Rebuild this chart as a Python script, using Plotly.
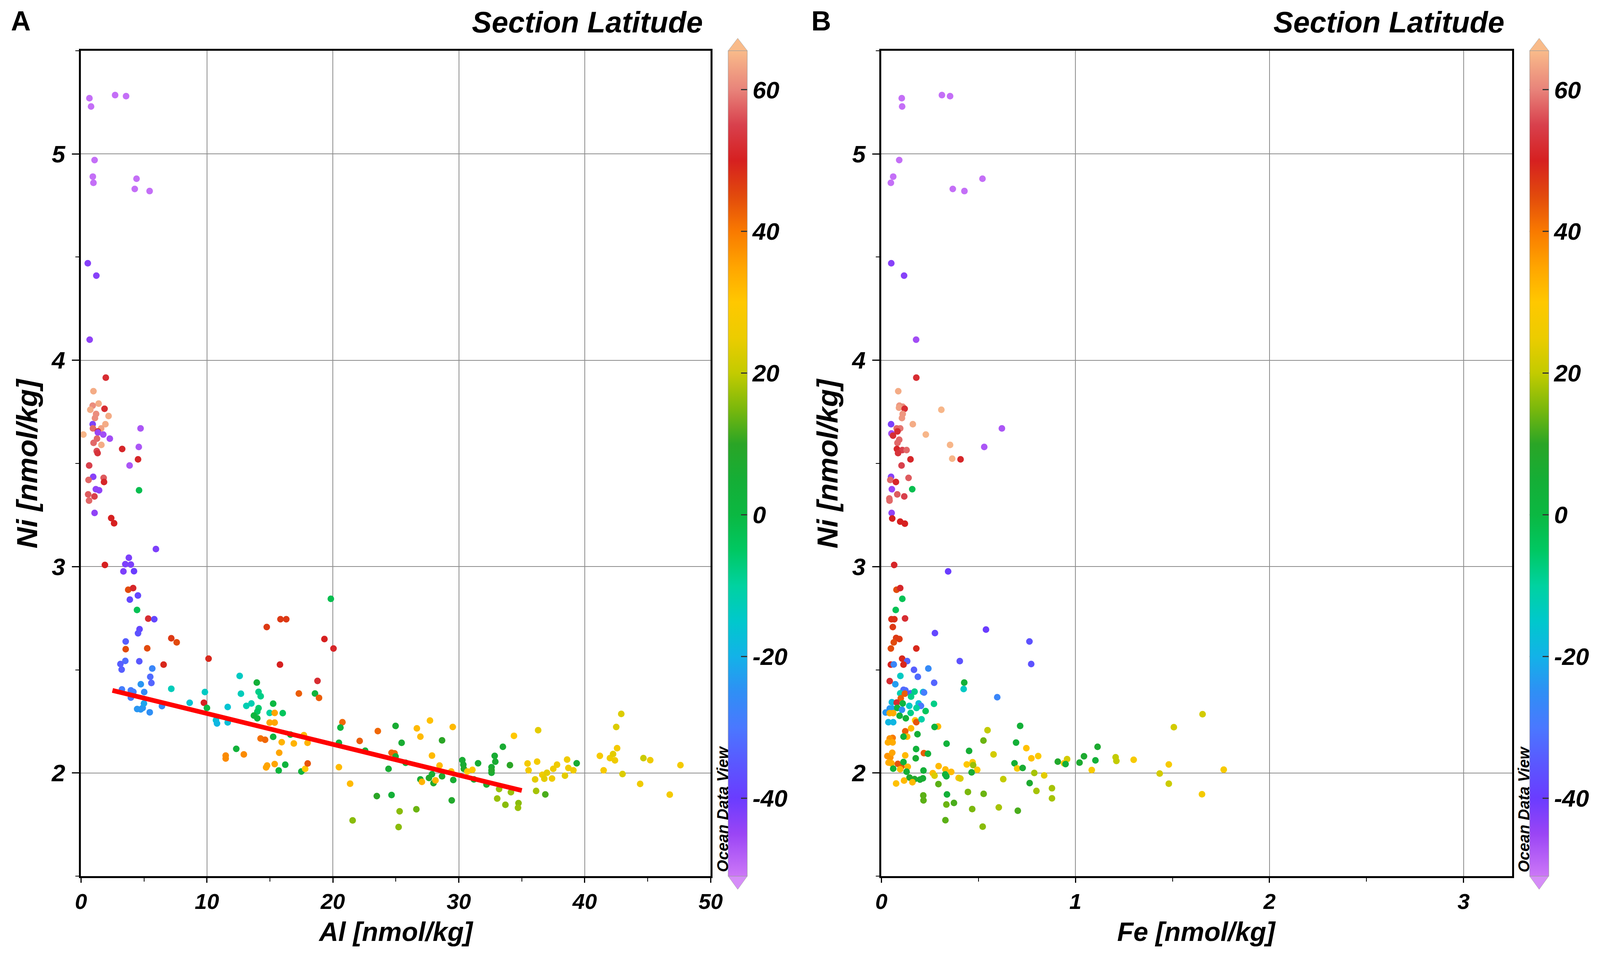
import plotly.graph_objects as go

# ---------------- data ----------------
# Panel A: Al [nmol/kg], Ni [nmol/kg], section latitude
al_vals = [0.67,0.8,2.71,3.58,1.08,0.94,0.99,4.41,4.27,5.45,0.54,1.22,0.69,
1.97,0.99,1.40,0.93,0.74,1.87,1.2,2.19,1.11,1.94,0.93,0.95,1.6,1.34,1.34,1.77,0.19,2.29,1.27,1.0,1.62,4.73,3.27,4.59,1.25,1.32,4.53,3.86,0.65,0.97,0.6,1.8,1.83,4.61,1.18,1.44,0.57,1.07,0.64,
1.08,2.4,2.63,5.95,3.8,3.52,3.96,1.9,3.37,4.21,3.75,4.14,4.52,3.88,4.45,5.34,5.82,4.65,4.53,7.17,7.6,3.55,3.55,5.26,3.52,3.13,3.23,4.63,6.56,5.66,5.5,5.59,4.75,10.13,14.75,15.84,16.3,19.84,19.33,20.05,15.8,12.6,13.96,18.78,7.17,9.84,12.7,14.1,14.27,17.3,18.58,18.9,3.25,3.96,4.16,5.02,3.96,
4.46,4.74,4.9,5.46,5.0,6.43,8.63,9.76,10.0,10.72,10.8,11.65,11.65,13.13,13.53,14.1,14.0,13.73,14.0,15.26,14.98,15.38,16.02,14.98,15.38,14.26,14.62,15.26,15.94,15.74,16.63,16.9,17.7,17.99,
12.33,11.49,11.49,12.93,14.78,14.7,15.38,16.22,15.7,17.5,17.8,18.0,
20.76,20.6,20.48,20.48,21.37,21.57,22.13,22.57,23.57,23.49,24.42,24.66,24.66,24.9,24.98,24.98,25.46,25.78,25.3,25.22,26.63,26.67,26.95,27.71,27.87,26.95,27.07,27.63,27.87,27.99,28.15,28.47,28.67,28.67,29.52,29.4,29.56,29.44,30.28,30.36,30.4,30.68,31.08,31.2,31.53,32.2,32.6,32.6,32.6,32.85,32.9,33.5,33.2,33.05,33.7,34.06,34.14,34.38,34.74,34.7,35.46,35.54,36.06,36.14,36.22,36.3,36.63,36.79,36.87,37.0,37.4,37.5,37.8,38.43,38.6,38.7,39.1,39.36,41.2,41.5,42.0,42.25,42.4,42.5,42.57,42.9,43.0,44.4,44.66,45.2,46.75,47.6]
ni_a = [5.27,5.23,5.285,5.28,4.97,4.89,4.86,4.88,4.83,4.82,4.47,4.41,4.10,
3.916,3.85,3.79,3.78,3.76,3.765,3.74,3.73,3.72,3.69,3.69,3.67,3.67,3.655,3.65,3.64,3.64,3.62,3.62,3.60,3.59,3.67,3.57,3.58,3.56,3.55,3.52,3.49,3.49,3.435,3.42,3.43,3.41,3.37,3.375,3.37,3.35,3.34,3.32,
3.26,3.235,3.21,3.085,3.043,3.012,3.01,3.008,2.977,2.978,2.888,2.896,2.86,2.84,2.79,2.748,2.745,2.697,2.677,2.653,2.633,2.637,2.6,2.604,2.543,2.528,2.501,2.541,2.525,2.506,2.466,2.436,2.43,2.554,2.707,2.745,2.745,2.844,2.649,2.603,2.525,2.47,2.438,2.446,2.408,2.392,2.384,2.393,2.372,2.385,2.385,2.364,2.405,2.4,2.393,2.392,2.365,
2.31,2.308,2.315,2.294,2.337,2.324,2.34,2.34,2.315,2.256,2.24,2.32,2.245,2.325,2.337,2.314,2.297,2.278,2.265,2.336,2.291,2.291,2.29,2.244,2.244,2.167,2.161,2.175,2.149,2.098,2.186,2.143,2.183,2.146,
2.117,2.084,2.07,2.09,2.036,2.027,2.043,2.04,2.012,2.007,2.02,2.046,
2.246,2.22,2.146,2.028,1.948,1.77,2.155,2.108,2.203,1.888,2.02,1.893,2.098,2.095,2.08,2.228,2.146,2.049,1.814,1.738,1.824,2.216,2.176,2.254,2.084,1.969,1.957,1.976,1.994,1.951,1.964,2.036,2.158,1.984,2.223,2.007,1.966,1.867,2.062,2.04,2.02,2.007,2.015,1.969,2.047,1.944,2.028,2.001,2.013,2.083,2.055,2.127,1.922,1.876,1.846,2.038,1.907,2.18,1.854,1.831,2.046,2.013,1.969,1.913,2.055,2.207,1.991,1.972,1.896,2.001,1.973,2.02,2.04,1.987,2.065,2.024,2.013,2.047,2.083,2.013,2.072,2.092,2.061,2.223,2.12,2.286,1.995,1.947,2.072,2.062,1.895,2.038]
lat_a = [-50,-50,-50,-50,-50,-50,-50,-50,-50,-50,-43,-43,-44,
52,64,64,61,64,52,61,64,61,64,-42,58,63,52,-45,-46,65,-46,58,58,64,-47,51,-47,56,53,51,-47,55,-43,58,57,51,-2,-44,-44,57,55,58,
-44,50,50,-42,-42,-42,-42,50,-42,-40,45,51,-38,-38,-3,52,-38,-38,-36,47,45,-34,45,45,-32,-34,-34,-35,49,-27,-32,-33,-24,49,47,47,47,-2,50,51,50,-14,4,52,-13,-14,-13,-8,-8,43,2,43,-29,-29,-29,-26,-29,
-24,-24,-24,-25,-22,-26,-16,50,0,-17,-19,-16,-17,-12,-12,-6,-4,2,2,0,-10,35,-4,35,35,41,42,2,33,35,4,33,32,33,
3,38,38,38,35,35,35,2,2,3,30,44,
42,2,3,32,32,16,43,6,42,10,6,4,42,42,6,6,6,3,16,16,14,32,32,31,32,6,33,8,6,8,33,32,10,8,32,32,6,8,6,6,8,30,30,6,6,8,6,6,8,6,6,6,17,17,16,10,17,30,16,17,27,27,24,18,27,24,26,24,12,24,26,26,26,24,26,26,26,6,28,28,26,24,26,23,27,23,23,26,21,26,27,27]

# regression line shown in panel A
fit_al = [2.5, 35.0]
fit_ni = [2.40, 1.915]

# Panel B: Fe [nmol/kg], Ni [nmol/kg], section latitude
fe_vals = [0.105,0.107,0.312,0.354,0.092,0.061,0.049,0.521,0.368,0.428,0.051,0.117,0.179,
0.18,0.087,0.093,0.11,0.091,0.12,0.309,0.11,0.106,0.162,0.05,0.097,0.079,0.083,0.052,0.06,0.621,0.229,0.092,0.083,0.354,0.53,0.08,0.108,0.13,0.086,0.15,0.365,0.408,0.104,0.05,0.046,0.075,0.14,0.054,0.159,0.082,0.118,0.041,0.042,
0.053,0.056,0.097,0.121,0.066,0.344,0.078,0.097,0.108,0.074,0.052,0.067,0.122,0.059,0.276,0.539,0.763,0.076,0.093,0.064,0.049,0.18,0.107,0.133,0.404,0.772,0.049,0.064,0.114,0.168,0.242,0.098,0.188,0.043,0.072,0.272,0.427,0.424,0.597,
0.114,0.124,0.097,0.121,0.151,0.171,0.153,0.1,0.215,0.22,0.054,0.079,0.11,0.144,0.192,0.204,0.181,0.271,0.043,0.058,0.082,0.106,0.022,0.043,0.061,0.094,0.151,0.228,0.126,0.036,0.061,0.174,0.18,0.207,0.292,0.274,0.153,0.123,0.133,0.114,0.186,0.058,0.043,0.034,0.058,0.336,0.547,0.526,0.715,0.694,0.747,0.452,0.578,0.773,0.808,0.179,0.219,0.24,0.177,0.123,0.031,0.046,0.056,0.037,0.052,0.085,0.103,0.114,0.136,0.061,0.097,0.13,0.217,0.295,0.33,0.36,0.265,0.274,0.329,0.335,0.44,0.47,0.473,0.494,0.465,0.398,0.407,0.686,0.7,0.728,0.788,0.839,0.628,0.764,0.799,0.145,0.171,0.199,0.214,0.16,0.117,0.076,0.294,0.338,0.446,0.527,0.216,0.217,0.335,0.374,0.468,0.605,0.703,0.33,0.522,
0.879,0.879,0.909,0.957,0.941,0.949,1.021,1.044,1.114,1.103,1.084,1.207,1.211,1.30,1.434,1.481,1.481,1.507,1.655,1.652,1.764]
ni_b = [5.27,5.23,5.285,5.28,4.97,4.89,4.86,4.88,4.83,4.82,4.47,4.41,4.10,
3.916,3.85,3.78,3.775,3.77,3.765,3.76,3.74,3.72,3.69,3.69,3.67,3.67,3.655,3.645,3.635,3.67,3.64,3.615,3.60,3.59,3.58,3.57,3.565,3.565,3.55,3.52,3.523,3.52,3.49,3.435,3.42,3.41,3.43,3.375,3.375,3.35,3.34,3.33,3.32,
3.26,3.233,3.218,3.208,3.008,2.977,2.888,2.896,2.844,2.79,2.745,2.745,2.749,2.707,2.678,2.695,2.637,2.654,2.649,2.633,2.603,2.603,2.554,2.542,2.542,2.528,2.525,2.526,2.525,2.50,2.506,2.47,2.466,2.445,2.43,2.437,2.438,2.407,2.367,
2.403,2.400,2.386,2.384,2.386,2.394,2.37,2.362,2.392,2.39,2.343,2.341,2.337,2.325,2.337,2.325,2.315,2.335,2.312,2.312,2.315,2.306,2.293,2.29,2.29,2.277,2.291,2.3,2.265,2.246,2.246,2.255,2.246,2.26,2.225,2.223,2.216,2.202,2.176,2.176,2.188,2.17,2.167,2.148,2.148,2.142,2.207,2.157,2.228,2.147,2.12,2.107,2.09,2.071,2.082,2.116,2.096,2.093,2.071,2.085,2.082,2.075,2.098,2.05,2.047,2.044,2.031,2.053,2.03,2.021,2.018,2.006,2.012,2.033,2.017,2.005,1.999,1.987,1.993,1.984,2.041,2.052,2.038,2.015,2.003,1.976,1.973,2.047,2.022,2.024,2.0,1.988,1.97,1.951,1.913,1.978,1.97,1.968,1.974,1.955,1.963,1.949,1.946,1.896,1.908,1.899,1.891,1.867,1.847,1.855,1.825,1.833,1.817,1.771,1.74,
1.926,1.877,2.055,2.067,2.047,2.043,2.05,2.081,2.127,2.061,2.014,2.076,2.058,2.064,1.997,2.041,1.948,2.222,2.285,1.897,2.016]
lat_b = [-50,-50,-50,-50,-50,-50,-50,-50,-50,-50,-43,-43,-46,
52,64,62,61,63,52,65,62,62,64,-42,59,58,52,-46,52,-47,65,58,58,65,-47,51,55,58,53,51,65,51,55,-43,58,51,57,-45,-2,57,55,58,58,
-44,50,50,50,51,-40,45,51,-3,-3,48,48,52,47,-38,-40,-36,47,47,45,45,49,49,-33,-36,-36,50,-27,49,-34,-26,-14,-32,52,-23,-33,4,-14,-27,
-32,-32,-12,43,-34,-8,-8,43,-15,-29,-18,52,1,-14,-17,-30,-10,-8,-24,-22,2,-25,-24,34,34,3,-8,-4,4,-19,-19,30,44,-11,32,2,32,43,32,3,5,40,37,34,34,3,20,14,4,4,31,5,22,31,29,3,43,4,6,32,37,37,35,34,34,44,44,3,32,4,32,5,4,32,32,32,32,23,3,3,30,30,17,30,6,31,23,5,28,6,18,24,20,7,18,8,8,6,6,32,32,31,13,4,15,14,13,13,14,12,15,18,12,13,16,
18,18,8,22,30,4,7,7,7,4,28,20,20,28,22,28,21,22,22,27,28]

cb_ticks = [-40, -20, 0, 20, 40, 60]
cb_text = ["-40", "-20", "0", "20", "40", "60"]
lat_min, lat_max = -51.0, 65.5

# ---------------- style ----------------
# geometry measured on the 4531 x 2446 reference; converted to paper fractions
# of the page (the page fills the browser viewport, with the 8 px body margin)
W, H = 4531, 2446
VW, VH, MARGIN = 4090, 2442, 8
FONT = "Liberation Sans"
odv = [(-51, "#cc77f7"), (-45, "#9a45f5"), (-40, "#6a3cff"), (-35, "#5a58ff"),
       (-30, "#4a78ff"), (-25, "#2f8ff5"), (-20, "#13b2e8"), (-15, "#00c8cc"),
       (-10, "#00d2a0"), (-5, "#00c862"), (0, "#0bb842"), (5, "#15ae36"),
       (10, "#2aa526"), (15, "#7bb80c"), (20, "#c3cb00"), (25, "#eccc00"),
       (30, "#ffc800"), (35, "#ffa500"), (40, "#f97a00"), (45, "#e24a0c"),
       (50, "#d62020"), (55, "#d8404c"), (60, "#e8837a"), (65.5, "#f9bb8a")]
cscale = [[(v - lat_min) / (lat_max - lat_min), c] for v, c in odv]


def px_x(p):
    return (p / W * VW - MARGIN) / (VW - 2 * MARGIN)


def px_y(p):
    return 1 - (p / H * VH - MARGIN) / (VH - 2 * MARGIN)


frame_top, frame_bot = 130, 2244
CB_W = 55
panels = [dict(left=214, right=2018, cbx=2068, letter="A", xt="Al [nmol/kg]"),
          dict(left=2507, right=4314, cbx=4364, letter="B", xt="Fe [nmol/kg]")]

fig = go.Figure()


def cbar(xpix):
    return dict(
        x=px_x(xpix), xanchor="left", xpad=0, ypad=0,
        y=(px_y(frame_top) + px_y(frame_bot)) / 2, yanchor="middle",
        len=px_y(frame_top) - px_y(frame_bot), lenmode="fraction",
        thickness=px_x(xpix + CB_W) - px_x(xpix), thicknessmode="fraction",
        outlinewidth=1, outlinecolor="#999999",
        tickvals=cb_ticks, ticktext=cb_text, ticks="inside", ticklen=16, tickwidth=3,
        tickcolor="#333333",
        tickfont=dict(family=FONT, size=62, color="black", weight="bold", style="italic"),
    )


fig.add_trace(go.Scatter(
    x=al_vals, y=ni_a, mode="markers", xaxis="x", yaxis="y",
    marker=dict(size=17, color=lat_a, colorscale=cscale, cmin=lat_min, cmax=lat_max,
                line=dict(width=0), colorbar=cbar(panels[0]["cbx"])),
    showlegend=False, hoverinfo="skip"))
fig.add_trace(go.Scatter(
    x=fit_al, y=fit_ni, mode="lines", xaxis="x", yaxis="y",
    line=dict(color="#ff0000", width=12), showlegend=False, hoverinfo="skip"))
fig.add_trace(go.Scatter(
    x=fe_vals, y=ni_b, mode="markers", xaxis="x2", yaxis="y2",
    marker=dict(size=17, color=lat_b, colorscale=cscale, cmin=lat_min, cmax=lat_max,
                line=dict(width=0), colorbar=cbar(panels[1]["cbx"])),
    showlegend=False, hoverinfo="skip"))

xtickfont = dict(family=FONT, size=56, color="black", weight="bold", style="italic")
ytickfont = dict(family=FONT, size=62, color="black", weight="bold", style="italic")
common = dict(showline=True, linewidth=5, linecolor="black", mirror=True,
              showgrid=True, gridcolor="#8c8c8c", gridwidth=2, zeroline=False,
              ticks="outside", tickwidth=3, tickcolor="black")
minor = dict(ticks="outside", ticklen=9, tickwidth=2, showgrid=False)
ydom = [px_y(frame_bot), px_y(frame_top)]
fig.update_layout(
    autosize=True, margin=dict(l=0, r=0, t=0, b=0, pad=0),
    paper_bgcolor="white", plot_bgcolor="white",
    xaxis=dict(domain=[px_x(214), px_x(2018)], range=[0, 50], dtick=10, anchor="y",
               ticklen=12, tickfont=xtickfont, minor=dict(dtick=5, **minor), **common),
    yaxis=dict(domain=ydom, range=[1.5, 5.5], dtick=1, anchor="x",
               ticklen=18, ticklabelstandoff=5, tickfont=ytickfont,
               minor=dict(dtick=0.5, **minor), **common),
    xaxis2=dict(domain=[px_x(2507), px_x(4314)], range=[0, 3.25], dtick=1, anchor="y2",
                ticklen=12, tickfont=xtickfont, minor=dict(dtick=0.5, **minor), **common),
    yaxis2=dict(domain=ydom, range=[1.5, 5.5], dtick=1, anchor="x2",
                ticklen=18, ticklabelstandoff=5, tickfont=ytickfont,
                minor=dict(dtick=0.5, **minor), **common),
)

ann = []
shapes = []
for p in panels:
    L, R, cbx = p["left"], p["right"], p["cbx"]
    ann.append(dict(text=p["letter"], x=px_x(L - 172), y=px_y(54), xref="paper", yref="paper",
                    xanchor="center", yanchor="middle", showarrow=False,
                    font=dict(family=FONT, size=70, color="black", weight="bold")))
    ann.append(dict(text="Section Latitude", x=px_x(R - 20), y=px_y(57), xref="paper", yref="paper",
                    xanchor="right", yanchor="middle", showarrow=False,
                    font=dict(family=FONT, size=76, color="black", weight="bold",
                              style="italic")))
    ann.append(dict(text="Ni [nmol/kg]", x=px_x(L - 155), y=px_y((frame_top + frame_bot) / 2),
                    xref="paper", yref="paper", xanchor="center", yanchor="middle",
                    textangle=-90, showarrow=False,
                    font=dict(family=FONT, size=75, color="black", weight="bold",
                              style="italic")))
    ann.append(dict(text=p["xt"], x=px_x((L + R) / 2), y=px_y(2386), xref="paper", yref="paper",
                    xanchor="center", yanchor="middle", showarrow=False,
                    font=dict(family=FONT, size=68, color="black", weight="bold",
                              style="italic")))
    ann.append(dict(text="Ocean Data View", x=px_x(cbx - 16), y=px_y(2072), xref="paper",
                    yref="paper", xanchor="center", yanchor="middle", textangle=-90,
                    showarrow=False,
                    font=dict(family=FONT, size=40, color="black", weight="bold",
                              style="italic")))
    # colorbar extension triangles
    x0, x1 = px_x(cbx), px_x(cbx + CB_W)
    xm = (x0 + x1) / 2
    yt, ytip = px_y(frame_top), px_y(frame_top - 32)
    yb, ybtip = px_y(frame_bot), px_y(frame_bot + 34)
    shapes.append(dict(type="path", xref="paper", yref="paper",
                       path=f"M {x0} {yt} L {xm} {ytip} L {x1} {yt} Z",
                       fillcolor="#f9bb8a", line=dict(color="#aaaaaa", width=1)))
    shapes.append(dict(type="path", xref="paper", yref="paper",
                       path=f"M {x0} {yb} L {xm} {ybtip} L {x1} {yb} Z",
                       fillcolor="#d58cf8", line=dict(color="#aaaaaa", width=1)))
    # left-edge tick dashes on colorbar
    for v in cb_ticks:
        yy = yb + (v - lat_min) / (lat_max - lat_min) * (yt - yb)
        shapes.append(dict(type="line", xref="paper", yref="paper",
                           x0=x0, x1=px_x(cbx + 16), y0=yy, y1=yy,
                           line=dict(color="#333333", width=3)))

fig.update_layout(annotations=ann, shapes=shapes)
fig.write_html("out.html")
